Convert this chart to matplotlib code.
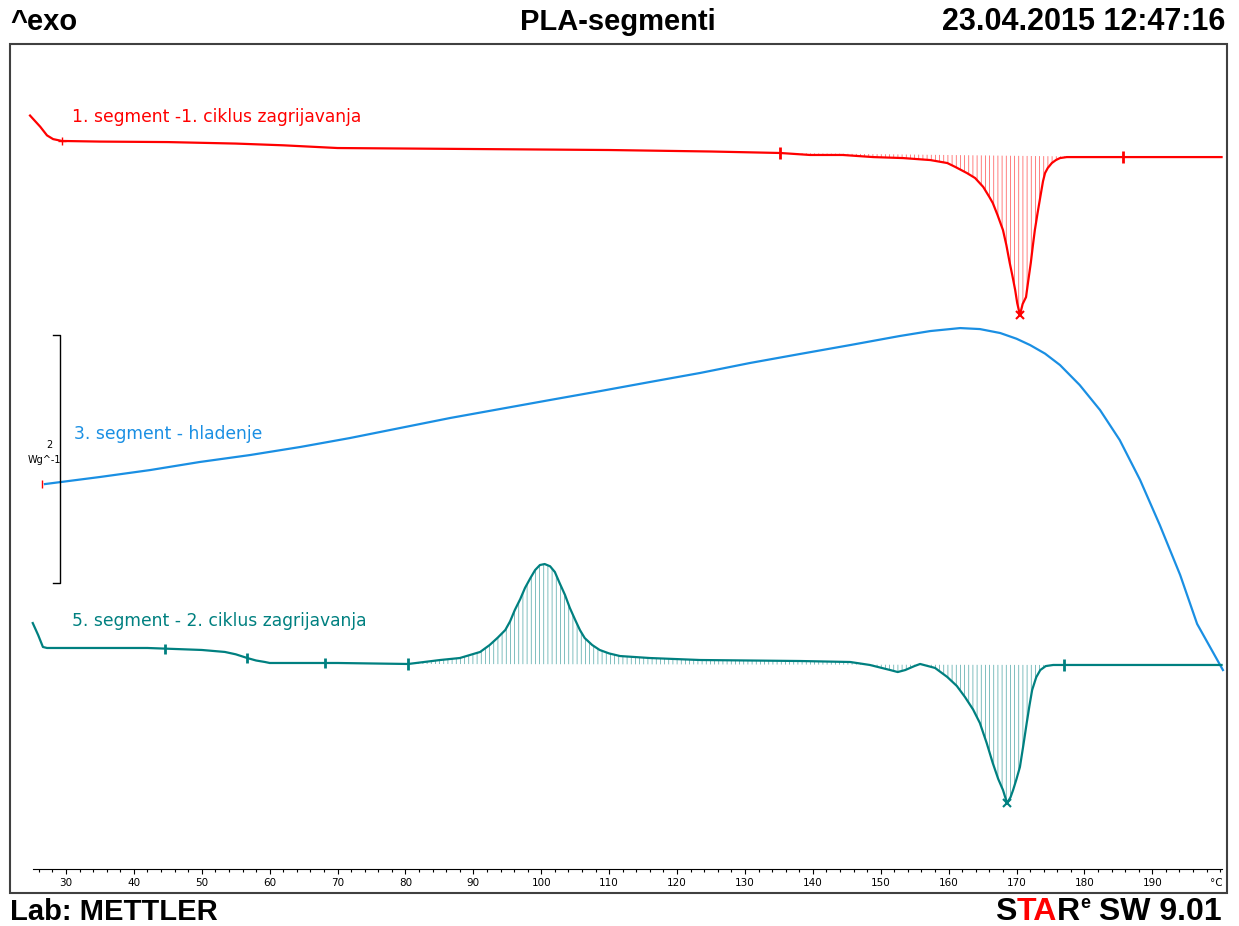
import numpy as np
import matplotlib.pyplot as plt
from matplotlib.patches import Rectangle

plt.rcParams['hatch.linewidth'] = 0.5

# DSC curves: temperature (°C) vs heat flow (W/g, shifted like in STARe)
seg1_T = [24.7, 26.2, 27.2, 28.1, 29.4, 35, 45, 55, 62, 70, 90, 110, 125, 135.2,
          139.6, 144.4, 148.9, 153.3, 157.3, 159.8, 161.0, 162.7, 163.9, 165.1,
          166.0, 166.5, 167.2, 168.0, 168.5, 169.0, 169.4, 169.8, 170.1, 170.5,
          170.9, 171.4, 171.7, 172.1, 172.4, 172.7, 173.1, 173.5, 173.9, 174.2,
          174.6, 175.2, 175.8, 176.4, 177.4, 185.7, 200.2]
seg1_hf = [3.77, 3.68, 3.61, 3.58, 3.565, 3.56, 3.556, 3.544, 3.53, 3.508, 3.50,
           3.492, 3.48, 3.468, 3.452, 3.452, 3.435, 3.427, 3.411, 3.387, 3.355,
           3.306, 3.266, 3.194, 3.113, 3.065, 2.968, 2.847, 2.726, 2.581, 2.476,
           2.363, 2.258, 2.161, 2.250, 2.306, 2.427, 2.581, 2.718, 2.847, 2.984,
           3.113, 3.24, 3.306, 3.347, 3.387, 3.411, 3.427, 3.435, 3.435, 3.435]

seg3_T = [26.9, 35.0, 42.4, 49.7, 57.1, 64.5, 71.8, 79.2, 86.6, 93.9, 101.3,
          108.7, 116.0, 123.4, 130.7, 138.1, 145.5, 152.8, 157.3, 161.7, 164.6,
          167.6, 170.0, 172.0, 174.2, 176.4, 179.3, 182.3, 185.2, 188.2, 191.1,
          194.1, 196.6, 200.4]
seg3_hf = [0.798, 0.855, 0.911, 0.976, 1.032, 1.097, 1.169, 1.250, 1.331, 1.403,
           1.476, 1.548, 1.621, 1.694, 1.774, 1.847, 1.919, 1.992, 2.032, 2.056,
           2.048, 2.016, 1.97, 1.919, 1.85, 1.758, 1.597, 1.395, 1.153, 0.831,
           0.468, 0.065, -0.33, -0.702]

seg5_T = [25.1, 25.9, 26.6, 27.2, 35, 42, 45, 50, 53.4, 55.0, 56.7, 58.0, 59.3,
          60.0, 70, 80.4, 85.1, 88.0, 91.0, 92.4, 93.6, 94.7, 95.4, 96.1, 96.9,
          97.6, 98.4, 99.1, 99.8, 100.5, 101.3, 102.0, 102.7, 103.5, 104.2, 105.0,
          105.7, 106.4, 107.5, 108.6, 110.0, 111.6, 116.0, 123.4, 138.1, 145.5,
          148.4, 151.4, 152.5, 153.6, 155.0, 155.8, 158.0, 159.8, 161.2, 162.4,
          163.6, 164.6, 165.6, 166.5, 167.3, 168.0, 168.6, 169.1, 169.5, 170.0,
          170.5, 171.0, 171.5, 171.9, 172.3, 172.9, 173.5, 174.3, 175.4, 177.0,
          200.2]
seg5_hf = [-0.323, -0.42, -0.516, -0.524, -0.524, -0.524, -0.530, -0.540, -0.556,
           -0.575, -0.605, -0.625, -0.637, -0.645, -0.645, -0.653, -0.621, -0.605,
           -0.556, -0.500, -0.44, -0.379, -0.31, -0.218, -0.13, -0.040, 0.04, 0.105,
           0.145, 0.153, 0.135, 0.089, 0.0, -0.097, -0.20, -0.298, -0.38, -0.444,
           -0.50, -0.540, -0.568, -0.589, -0.605, -0.621, -0.629, -0.637, -0.661,
           -0.702, -0.718, -0.702, -0.669, -0.653, -0.685, -0.758, -0.83, -0.919,
           -1.02, -1.129, -1.29, -1.452, -1.58, -1.669, -1.774, -1.73, -1.669,
           -1.58, -1.484, -1.31, -1.129, -0.99, -0.863, -0.76, -0.702, -0.67,
           -0.661, -0.661, -0.661]

# evaluation limits / marks
seg1_limits = [135.2, 185.7]
seg1_peak = 170.5
seg1_start = 29.4
seg5_limits = [80.4, 177.0]
seg5_ticks = [44.6, 56.7, 68.1]
seg5_peak = 168.6

red = '#ff0000'
blue = '#1a8fe3'
teal = '#008080'

fig = plt.figure(figsize=(12.39, 9.26), dpi=100)
ax = fig.add_axes([10/1239, 1-893/926, 1217/1239, 849/926])
ax.set_xlim(21.75, 201.0)
ax.set_ylim(-2.5, 4.347)

for s in ['left', 'right', 'top']:
    ax.spines[s].set_visible(False)
ax.add_patch(Rectangle((0, 0), 1, 1, transform=ax.transAxes, fill=False,
                       edgecolor='#404040', lw=1.5, clip_on=False, zorder=5))
ax.spines['bottom'].set_position(('data', -2.306))
ax.spines['bottom'].set_bounds(25.1, 200.2)
ax.spines['bottom'].set_linewidth(0.8)
ax.set_yticks([])
ax.set_xticks(np.arange(30, 191, 10))
ax.set_xticks(np.arange(26, 201, 2), minor=True)
ax.tick_params(axis='x', which='major', direction='out', length=3.5, width=0.8,
               labelsize=7.5, pad=3)
ax.tick_params(axis='x', which='minor', direction='out', length=1.8, width=0.8)
ax.text(200.3, -2.38, '°C', fontsize=7.5, ha='right', va='top')

# curves
ax.plot(seg1_T, seg1_hf, color=red, lw=1.6)
ax.plot(seg3_T, seg3_hf, color=blue, lw=1.6)
ax.plot(seg5_T, seg5_hf, color=teal, lw=1.6)

# integration areas
t1 = np.array(seg1_T); h1 = np.array(seg1_hf)
b1 = np.interp(t1, seg1_limits, np.interp(seg1_limits, t1, h1))
m1 = (t1 >= seg1_limits[0]) & (t1 <= seg1_limits[1])
ax.fill_between(t1, h1, b1, where=m1, facecolor='none', edgecolor=red,
                hatch='||||', lw=0, alpha=0.7)

t5 = np.array(seg5_T); h5 = np.array(seg5_hf)
b5 = np.interp(t5, seg5_limits, np.interp(seg5_limits, t5, h5))
m5 = (t5 >= seg5_limits[0]) & (t5 <= seg5_limits[1])
ax.fill_between(t5, h5, b5, where=m5, facecolor='none', edgecolor=teal,
                hatch='||||', lw=0, alpha=0.7)

# marks
ax.plot(seg1_start, np.interp(seg1_start, t1, h1), '+', color=red, ms=6, mew=1)
ax.plot(seg1_limits, np.interp(seg1_limits, t1, h1), '|', color=red, ms=9, mew=2)
ax.plot(seg1_peak, np.interp(seg1_peak, t1, h1), 'x', color=red, ms=6, mew=1.5)
ax.plot(seg5_ticks, np.interp(seg5_ticks, t5, h5), '|', color=teal, ms=7, mew=2)
ax.plot(seg5_limits, np.interp(seg5_limits, t5, h5), '|', color=teal, ms=9, mew=2)
ax.plot(seg5_peak, np.interp(seg5_peak, t5, h5), 'x', color=teal, ms=6, mew=1.5)
ax.plot(seg3_T[0] - 0.5, seg3_hf[0], '|', color=red, ms=6, mew=1)

# scale bar 2 W/g
ax.plot([28.1, 29.1, 29.1, 28.1], [2.0, 2.0, 0.0, 0.0], color='black', lw=1)
ax.text(27.6, 1.11, '2', fontsize=7, ha='center', va='center')
ax.text(24.4, 0.99, 'Wg^-1', fontsize=7, ha='left', va='center')

# curve labels
ax.text(30.9, 3.76, '1. segment -1. ciklus zagrijavanja', color=red, fontsize=12.3,
        va='center')
ax.text(31.2, 1.20, '3. segment - hladenje', color=blue, fontsize=12.3, va='center')
ax.text(30.9, -0.306, '5. segment - 2. ciklus zagrijavanja', color=teal,
        fontsize=12.3, va='center')

# header / footer
hfont = dict(family='Liberation Sans', fontsize=21, fontweight='bold')
fig.text(10/1239, 1-22/926, '^exo', ha='left', va='center', **hfont)
fig.text(618/1239, 1-22/926, 'PLA-segmenti', ha='center', va='center', **hfont)
fig.text(1225/1239, 1-22/926, '23.04.2015 12:47:16', ha='right', va='center',
         family='Liberation Sans', fontsize=22, fontweight='bold')
fig.text(10/1239, 1-912/926, 'Lab: METTLER', ha='left', va='center', **hfont)

# STARe logo, pieced together and right-aligned
lfont = dict(family='Liberation Sans', fontsize=23, fontweight='bold')
renderer = fig.canvas.get_renderer()
pieces = [('S', 'black', False), ('TA', red, False), ('R', 'black', False),
          ('e', 'black', True), (' SW 9.01', 'black', False)]
texts = []
for piece, col, sup in pieces:
    if sup:
        t = fig.text(0, 1-903/926, piece, ha='left', va='center', color=col,
                     family='Liberation Sans', fontsize=13, fontweight='bold')
    else:
        t = fig.text(0, 1-912/926, piece, ha='left', va='center', color=col, **lfont)
    texts.append(t)
widths = [t.get_window_extent(renderer).width for t in texts]
x = 1222 - sum(widths)
for t, w in zip(texts, widths):
    t.set_x(x / 1239)
    x += w

fig.savefig('out.png', dpi=100)
